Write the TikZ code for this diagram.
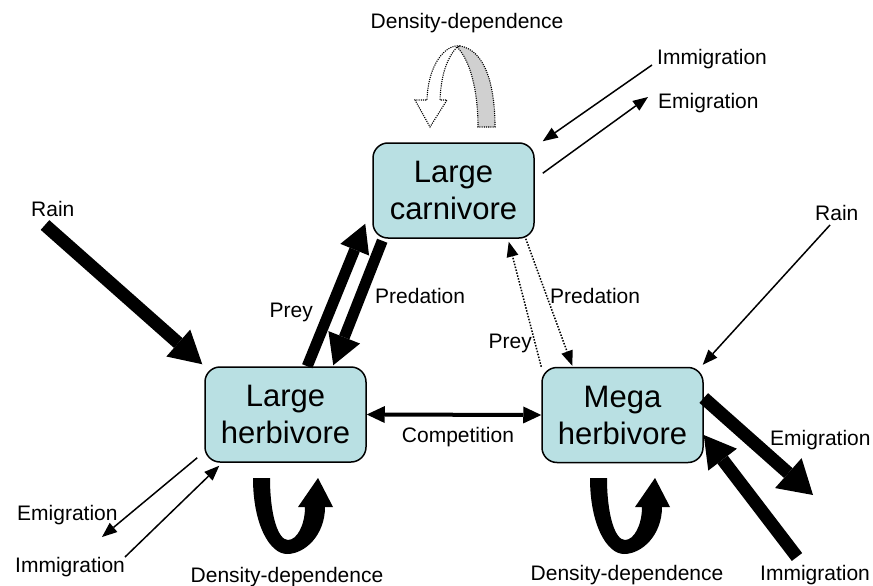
\documentclass[tikz,border=0pt]{standalone}
\usepackage{fontspec}
\setmainfont{Liberation Sans}
\usetikzlibrary{arrows.meta}
\definecolor{boxfill}{RGB}{185,224,227}
\definecolor{ddgray}{RGB}{208,208,208}
\begin{document}
\begin{tikzpicture}[x=1pt,y=-1pt,
  box/.style={draw, line width=1.5pt, fill=boxfill, rounded corners=15pt,
    minimum width=161pt, minimum height=95pt, inner sep=0pt, align=center,
    font=\fontsize{31}{37}\selectfont},
  lbl/.style={inner sep=0pt, font=\fontsize{21}{25}\selectfont},
  thinarr/.style={line width=1.5pt, -{Triangle[length=15pt,width=12pt,line width=0pt]}},
  dotarr/.style={thinarr, dash pattern=on 1.5pt off 1.5pt},
  thickarr/.style n args={3}{line width=#1, -{Triangle[length=#2,width=#3,line width=0pt]}},
  dotline/.style={line width=1.1pt, dash pattern=on 1.1pt off 1.1pt}
]
\useasboundingbox (0,0) rectangle (873,586);

% boxes
\node[box] (lc) at (453.5,190.5) {Large\\carnivore};
\node[box] (lh) at (285.5,414.5) {Large\\herbivore};
\node[box] (mh) at (622.5,415) {Mega\\herbivore};

% labels
\node[lbl, anchor=base] (ddtop) at (467,29) {Density-dependence};
\node[lbl, anchor=base west] (immC) at (657,65) {Immigration};
\node[lbl, anchor=base west] (emiC) at (658,108) {Emigration};
\node[lbl, anchor=base west] (rainL) at (31,216) {Rain};
\node[lbl, anchor=base west] (rainR) at (815,220) {Rain};
\node[lbl, anchor=base east] (preyL) at (313,317) {Prey};
\node[lbl, anchor=base west] (predL) at (375,303) {Predation};
\node[lbl, anchor=base west] (predR) at (550,303) {Predation};
\node[lbl, anchor=base east] (preyR) at (532,348) {Prey};
\node[lbl, anchor=base] (comp) at (458,442) {Competition};
\node[lbl, anchor=base west] (emiL) at (17,520) {Emigration};
\node[lbl, anchor=base west] (immL) at (15,572) {Immigration};
\node[lbl, anchor=base] (ddL) at (287,582) {Density-dependence};
\node[lbl, anchor=base] (ddM) at (627,580) {Density-dependence};
\node[lbl, anchor=base west] (emiM) at (770,445) {Emigration};
\node[lbl, anchor=base west] (immM) at (760,580) {Immigration};

% free ends
\coordinate (rainLs) at (45,225);
\coordinate (rainRs) at (830,225);
\coordinate (immCs) at (652,65);
\coordinate (emiCe) at (648,97);
\coordinate (emiLe) at (102,537);
\coordinate (immLs) at (125,557);
\coordinate (emiMe) at (813,495);
\coordinate (immMs) at (797,557);

% carnivore - large herbivore
\draw[thickarr={11pt}{28pt}{31pt}] ([xshift=103pt]lh.north west) -- ([xshift=-7pt,yshift=15pt]lc.south west);
\draw[thickarr={11pt}{30pt}{34pt}] ([xshift=10pt,yshift=-2pt]lc.south west) -- ([xshift=129pt,yshift=1pt]lh.north west);

% carnivore - mega herbivore (dotted)
\draw[dotarr] ([xshift=-9pt]lc.south east) -- ([xshift=31pt,yshift=1pt]mh.north west);
\draw[dotarr] (mh.north west) -- ([xshift=-26pt,yshift=-3pt]lc.south east);

% competition
\draw[line width=4pt, {Triangle[length=18pt,width=17pt,line width=0pt]}-{Triangle[length=18pt,width=17pt,line width=0pt]}] (lh.east) -- (mh.west);

% rain
\draw[thickarr={13pt}{32pt}{36pt}] (rainLs) -- ([xshift=-2pt,yshift=2pt]lh.north west);
\draw[thinarr] (rainRs) -- ([xshift=-1pt,yshift=2pt]mh.north east);

% carnivore migration
\draw[thinarr] (immCs) -- ([xshift=8pt,yshift=1pt]lc.north east);
\draw[thinarr] ([xshift=8pt,yshift=-31pt]lc.north east) -- (emiCe);

% large herbivore migration
\draw[thinarr] ([xshift=-7pt,yshift=5pt]lh.south west) -- (emiLe);
\draw[thinarr] (immLs) -- ([xshift=15pt,yshift=-3pt]lh.south west);

% mega herbivore migration
\draw[thickarr={13pt}{33pt}{40pt}] ([yshift=17pt]mh.east) -- (emiMe);
\draw[thickarr={13pt}{31pt}{36pt}] (immMs) -- ([yshift=-20pt]mh.east);

% density dependence loops (bottom)
\foreach \dx/\nm in {0/loopL,337/loopM}{
  \fill[black, shift={(\dx,0)}] (253,478) .. controls (253,525) and (270,554) .. (287,554)
    .. controls (305,554) and (325,535) .. (325,507) -- (333,507) -- (318,478) -- (298,507) -- (305,507)
    .. controls (305,525) and (297,540) .. (288,540)
    .. controls (278,540) and (270,515) .. (270,478) -- cycle;
}

% density dependence (top, dotted curved arrow)
\filldraw[dotline, fill=ddgray] (457,47) .. controls (470,60) and (478,90) .. (478,127) -- (495,127)
  .. controls (495,85) and (485,50) .. (460,46) -- cycle;
\filldraw[dotline, fill=white] (460,46) .. controls (445,44) and (428,65) .. (427,100) -- (415,100)
  -- (430,127) -- (447,100) -- (440,100) .. controls (441,75) and (447,58) .. (457,47) -- cycle;
\end{tikzpicture}
\end{document}
